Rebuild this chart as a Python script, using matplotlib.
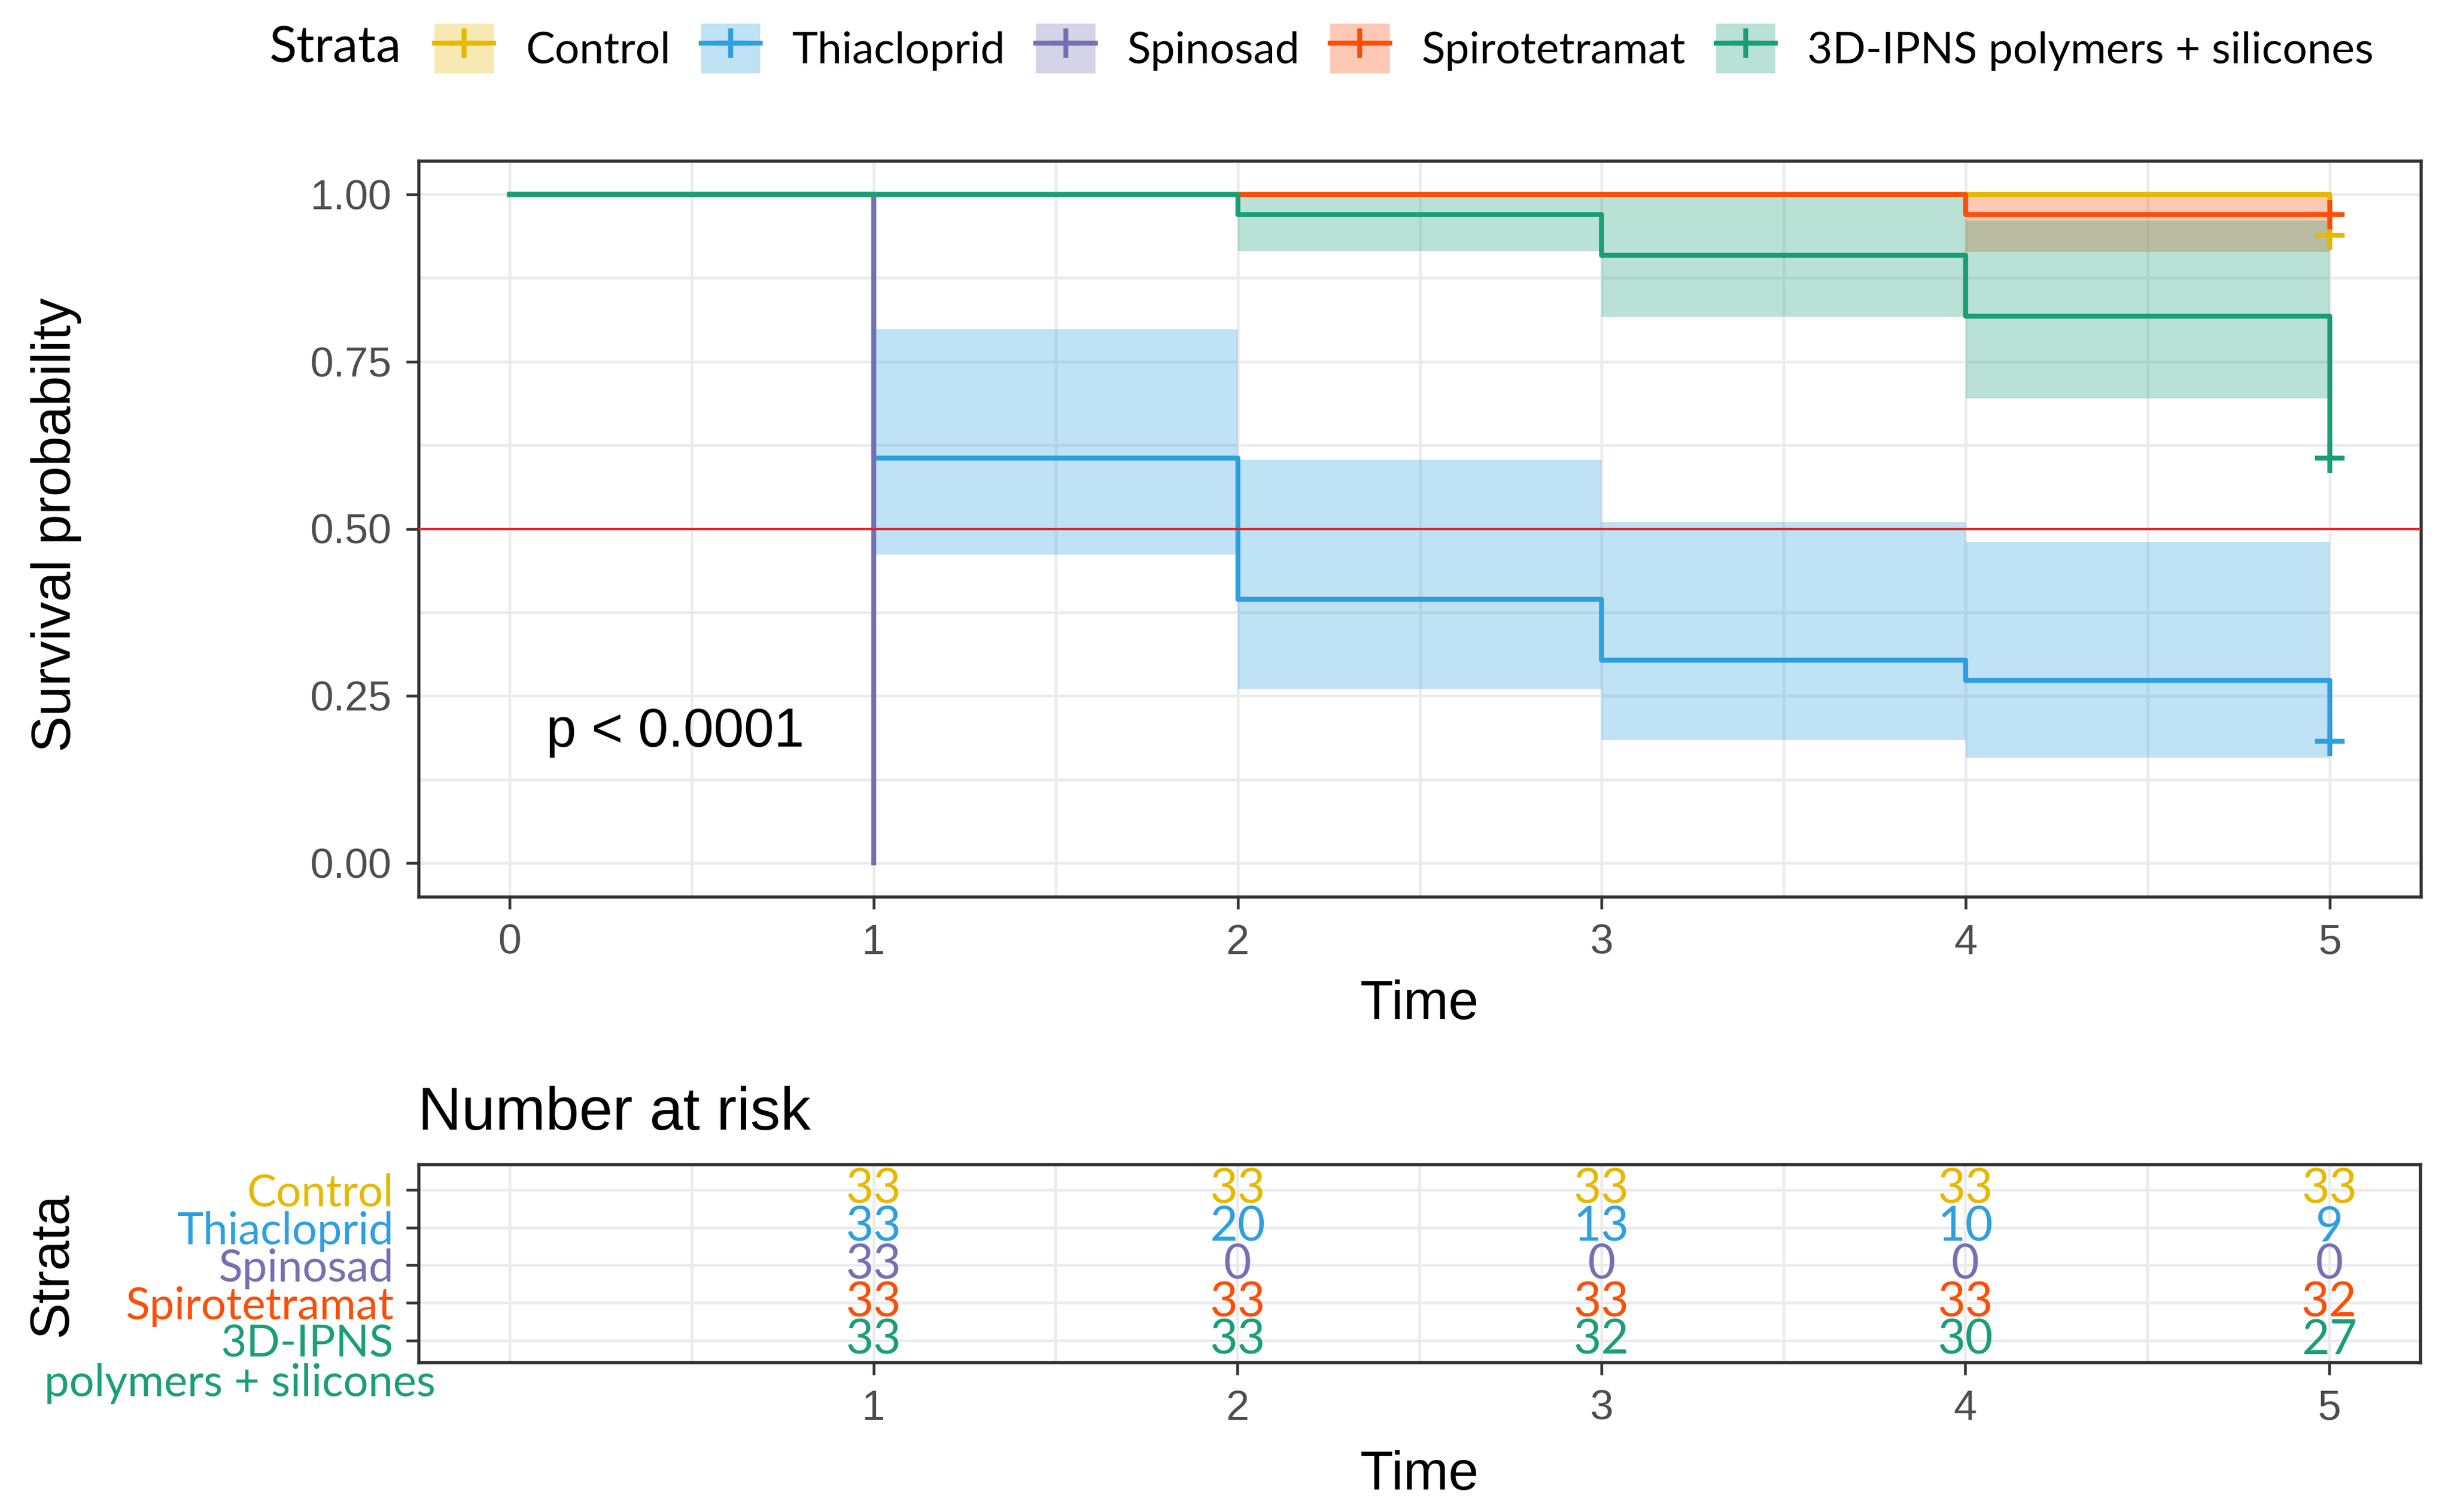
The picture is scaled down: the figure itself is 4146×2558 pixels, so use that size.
import matplotlib
matplotlib.use('Agg')
import matplotlib.pyplot as plt
from matplotlib.patches import Patch
from matplotlib.lines import Line2D
from matplotlib.legend_handler import HandlerTuple
from matplotlib.ticker import MultipleLocator, FixedLocator

# strata and colours
strata = ['Control', 'Thiacloprid', 'Spinosad', 'Spirotetramat', '3D-IPNS polymers + silicones']
colors = ['#E7B800', '#2E9FDF', '#7570B3', '#FC4E07', '#1B9E77']

# Kaplan-Meier steps (value holds from times[i] until times[i+1])
times = [0, 1, 2, 3, 4, 5]
surv = {
    'Control':       [1.0, 1.0, 1.0, 1.0, 1.0, 0.939],
    'Thiacloprid':   [1.0, 0.606, 0.394, 0.303, 0.273, 0.182],
    'Spinosad':      [1.0, 0.0],
    'Spirotetramat': [1.0, 1.0, 1.0, 1.0, 0.970, 0.970],
    '3D-IPNS polymers + silicones': [1.0, 1.0, 0.970, 0.909, 0.818, 0.606],
}

# confidence bands (last value repeated to close the step at t=5)
upper = {
    'Thiacloprid':   [1.0, 0.798, 0.603, 0.510, 0.480, 0.480],
    'Spirotetramat': [1.0, 1.0, 1.0, 1.0, 1.0, 1.0],
    '3D-IPNS polymers + silicones': [1.0, 1.0, 1.0, 1.0, 0.961, 0.961],
}
lower = {
    'Thiacloprid':   [1.0, 0.462, 0.260, 0.184, 0.158, 0.158],
    'Spirotetramat': [1.0, 1.0, 1.0, 1.0, 0.914, 0.914],
    '3D-IPNS polymers + silicones': [1.0, 1.0, 0.915, 0.817, 0.695, 0.695],
}

# censored observations at the end of follow-up
censor_time = 5
censor_surv = {
    'Control': 0.939,
    'Thiacloprid': 0.182,
    'Spirotetramat': 0.970,
    '3D-IPNS polymers + silicones': 0.606,
}

# number at risk table
risk_times = [1, 2, 3, 4, 5]
at_risk = {
    'Control':       [33, 33, 33, 33, 33],
    'Thiacloprid':   [33, 20, 13, 10, 9],
    'Spinosad':      [33, 0, 0, 0, 0],
    'Spirotetramat': [33, 33, 33, 33, 32],
    '3D-IPNS polymers + silicones': [33, 33, 32, 30, 27],
}
table_labels = ['Control', 'Thiacloprid', 'Spinosad', 'Spirotetramat', '3D-IPNS']

W, H = 4146, 2558
fig = plt.figure(figsize=(W / 300, H / 300), dpi=300)
plt.rcParams['font.family'] = ['Liberation Sans', 'DejaVu Sans']
label_font = ['Lato', 'DejaVu Sans']

grid_col = '#EBEBEB'
edge_col = '#333333'
tick_col = '#4D4D4D'


def style_axes(a):
    for s in a.spines.values():
        s.set_color(edge_col)
        s.set_linewidth(1.3)
    a.tick_params(which='major', length=5, width=1.1, color=edge_col,
                  labelcolor=tick_col, labelsize=17, pad=6)
    a.tick_params(which='minor', length=0)
    a.grid(True, which='both', color=grid_col, linewidth=1.1, zorder=0)
    a.set_axisbelow(True)


# ---- survival curves ----
ax = fig.add_axes([708 / W, 1 - 1517 / H, (4095 - 708) / W, (1517 - 272) / H])
ax.set_xlim(-0.25, 5.25)
ax.set_ylim(-0.05, 1.05)
ax.xaxis.set_major_locator(MultipleLocator(1))
ax.xaxis.set_minor_locator(MultipleLocator(0.5))
ax.yaxis.set_major_locator(MultipleLocator(0.25))
ax.yaxis.set_minor_locator(MultipleLocator(0.125))
ax.yaxis.set_major_formatter(lambda v, p: f'{v:.2f}')
style_axes(ax)

for name, col in zip(strata, colors):
    if name in upper:
        ax.fill_between(times, lower[name], upper[name], step='post',
                        color=col, alpha=0.3, linewidth=0, zorder=2)

for name, col in zip(strata, colors):
    y = surv[name]
    ax.step(times[:len(y)], y, where='post', color=col, linewidth=2.0, zorder=3)

ax.axhline(0.5, color='#E8202A', linewidth=1.0, zorder=4)

for name, col in zip(strata, colors):
    if name in censor_surv:
        ax.plot(censor_time, censor_surv[name], marker='+', color=col,
                markersize=12, mew=2.0, zorder=5)

ax.text(0.10, 0.196, 'p < 0.0001', fontsize=22, va='center', ha='left', zorder=6)

fig.text(2401 / W, 1 - 1724 / H, 'Time', fontsize=22, ha='center', va='baseline')
fig.text(95 / W, 1 - 888 / H, 'Survival probability', fontsize=22,
         rotation=90, ha='center', va='center')

# ---- legend ----
handles = []
for col in colors:
    handles.append((Patch(facecolor=col, alpha=0.3, edgecolor='none'),
                    Line2D([], [], color=col, linewidth=2.0, marker='+',
                           markersize=12, mew=2.0)))
fig.text(455 / W, 1 - 82 / H, 'Strata', fontsize=20.5, family=label_font,
         ha='left', va='center')
fig.legend(handles, strata, loc='center left', bbox_to_anchor=(735 / W, 1 - 82 / H),
           ncol=5, frameon=False, prop={'family': label_font, 'size': 17.7},
           handlelength=1.36, handleheight=1.36, handletextpad=0.73,
           columnspacing=0.7, borderpad=0, borderaxespad=0,
           handler_map={tuple: HandlerTuple(ndivide=1, pad=0)})

# ---- number at risk table ----
tab = fig.add_axes([708 / W, 1 - 2305 / H, (4094 - 708) / W, (2305 - 1970) / H])
tab.set_xlim(-0.25, 5.25)
tab.set_ylim(0.42, 5.67)
rows = [5, 4, 3, 2, 1]
tab.xaxis.set_major_locator(FixedLocator(risk_times))
tab.xaxis.set_minor_locator(FixedLocator([0, 0.5, 1.5, 2.5, 3.5, 4.5]))
tab.yaxis.set_major_locator(FixedLocator(rows))
tab.set_yticklabels(table_labels)
style_axes(tab)
tab.tick_params(axis='y', labelsize=18, pad=5)
for lbl, col in zip(tab.get_yticklabels(), colors):
    lbl.set_color(col)
    lbl.set_family(label_font)

for name, col, r in zip(strata, colors, rows):
    for t, n in zip(risk_times, at_risk[name]):
        tab.text(t, r, str(n), color=col, fontsize=19.5, ha='center', va='center',
                 family=label_font, clip_on=False)

tab.text(737 / W, 1 - 2340 / H, 'polymers + silicones', transform=fig.transFigure,
         color=colors[4], fontsize=18, ha='right', va='center', family=label_font)

fig.text(707 / W, 1 - 1911 / H, 'Number at risk', fontsize=24.5, ha='left', va='baseline')
fig.text(2401 / W, 1 - 2520 / H, 'Time', fontsize=22, ha='center', va='baseline')
fig.text(89 / W, 1 - 2139 / H, 'Strata', fontsize=22, rotation=90,
         ha='center', va='center')

fig.savefig('out.png', dpi=300)
